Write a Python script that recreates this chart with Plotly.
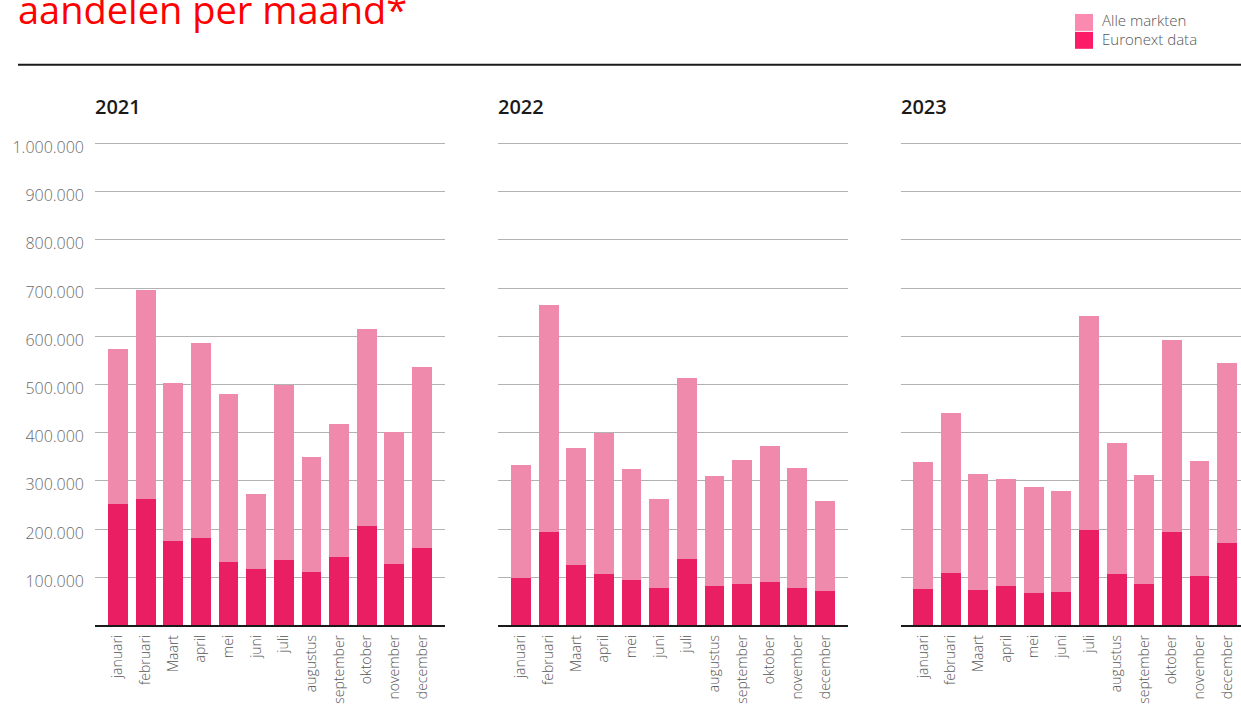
import plotly.graph_objects as go

months = ["januari", "februari", "Maart", "april", "mei", "juni", "juli",
          "augustus", "september", "oktober", "november", "december"]
years = ["2021", "2022", "2023"]

alle_2021 = [574000, 696000, 504000, 587000, 481000, 273000, 500000, 351000, 419000, 616000, 403000, 537000]
euro_2021 = [252000, 264000, 176000, 182000, 132000, 118000, 136000, 112000, 143000, 207000, 128000, 161000]
alle_2022 = [333000, 665000, 368000, 399000, 326000, 262000, 514000, 310000, 343000, 374000, 328000, 258000]
euro_2022 = [100000, 194000, 126000, 107000, 95000, 79000, 138000, 83000, 87000, 91000, 79000, 72000]
alle_2023 = [339000, 442000, 314000, 304000, 287000, 279000, 643000, 380000, 312000, 593000, 341000, 545000]
euro_2023 = [76000, 110000, 74000, 83000, 68000, 70000, 198000, 107000, 87000, 194000, 103000, 171000]

ytick_vals = [100000, 200000, 300000, 400000, 500000, 600000, 700000, 800000, 900000, 1000000]
ytick_text = ["100.000", "200.000", "300.000", "400.000", "500.000", "600.000",
              "700.000", "800.000", "900.000", "1.000.000"]

LIGHT = "#ef8aac"
DARK = "#e91e63"
W, H = 1241, 718

alle = [alle_2021, alle_2022, alle_2023]
euro = [euro_2021, euro_2022, euro_2023]

fig = go.Figure()
for i in range(3):
    xa = "x" if i == 0 else f"x{i+1}"
    ya = "y" if i == 0 else f"y{i+1}"
    fig.add_trace(go.Bar(x=months, y=alle[i], marker=dict(color=LIGHT, line=dict(width=0)),
                         width=0.72, xaxis=xa, yaxis=ya, showlegend=False, name="Alle markten"))
    fig.add_trace(go.Bar(x=months, y=euro[i], marker=dict(color=DARK, line=dict(width=0)),
                         width=0.72, xaxis=xa, yaxis=ya, showlegend=False, name="Euronext data"))

FONT = "Open Sans"
x_domains = [(95 / W, 445 / W), (498 / W, 848 / W), (901 / W, 1.0)]
x_ranges = [[-0.83, 11.83], [-0.83, 11.83], [-0.80, 11.50]]
ydom = [(H - 625) / H, (H - 136.2) / H]

layout = dict(
    width=W, height=H, barmode="overlay", bargap=0,
    margin=dict(l=0, r=0, t=0, b=0),
    paper_bgcolor="white", plot_bgcolor="white",
    font=dict(family=FONT, color="#555555"),
)
for i in range(3):
    xk = "xaxis" if i == 0 else f"xaxis{i+1}"
    yk = "yaxis" if i == 0 else f"yaxis{i+1}"
    ya = "y" if i == 0 else f"y{i+1}"
    xa = "x" if i == 0 else f"x{i+1}"
    layout[xk] = dict(domain=x_domains[i], anchor=ya, type="category", range=x_ranges[i],
                      tickangle=-90, showgrid=False, showline=True, linecolor="#1a1a1a",
                      linewidth=2, ticks="", ticklabelstandoff=2,
                      tickfont=dict(size=14, color="#555555", family=FONT, weight=300),
                      layer="above traces", fixedrange=True)
    layout[yk] = dict(domain=ydom, anchor=xa, range=[0, 1010000], tickvals=ytick_vals,
                      ticktext=ytick_text, showticklabels=(i == 0), showgrid=True,
                      gridcolor="rgba(0,0,0,0.3)", gridwidth=1, zeroline=False, ticks="",
                      tickfont=dict(size=16, color="#6a6a6a", family=FONT, weight=300),
                      ticklabelstandoff=10, ticklabelshift=4,
                      layer="above traces", fixedrange=True)
fig.update_layout(**layout)

annotations = [
    dict(text="aandelen per maand*", x=16 / W, y=(H - 34) / H, xref="paper", yref="paper",
         xanchor="left", yanchor="bottom", showarrow=False,
         font=dict(size=38, color="#ff0000", family=FONT)),
    dict(text="Alle markten", x=1100 / W, y=(H - 17) / H, xref="paper", yref="paper",
         xanchor="left", yanchor="middle", showarrow=False,
         font=dict(size=15, color="#555555", family=FONT, weight=300)),
    dict(text="Euronext data", x=1100 / W, y=(H - 36) / H, xref="paper", yref="paper",
         xanchor="left", yanchor="middle", showarrow=False,
         font=dict(size=15, color="#555555", family=FONT, weight=300)),
]
for i, yr in enumerate(years):
    annotations.append(dict(text=yr, x=[93, 496, 899][i] / W, y=(H - 104) / H,
                            xref="paper", yref="paper", xanchor="left", yanchor="middle",
                            showarrow=False,
                            font=dict(size=20, color="#1a1a1a", family=FONT, weight=600)))
fig.update_layout(annotations=annotations)

shapes = [
    dict(type="line", xref="paper", yref="paper", x0=18 / W, x1=1.0, y0=(H - 62) / H, y1=(H - 62) / H,
         line=dict(color="#1a1a1a", width=2)),
    dict(type="rect", xref="paper", yref="paper", x0=1075 / W, x1=1093 / W,
         y0=(H - 28) / H, y1=(H - 11) / H, fillcolor="#fb8ab0", line=dict(width=0)),
    dict(type="rect", xref="paper", yref="paper", x0=1075 / W, x1=1093 / W,
         y0=(H - 46) / H, y1=(H - 29) / H, fillcolor="#fc1b66", line=dict(width=0)),
]
fig.update_layout(shapes=shapes)

fig.write_html("out.html", config={"displayModeBar": False},
               post_script="document.body.style.margin='0';document.body.style.overflow='hidden';")
